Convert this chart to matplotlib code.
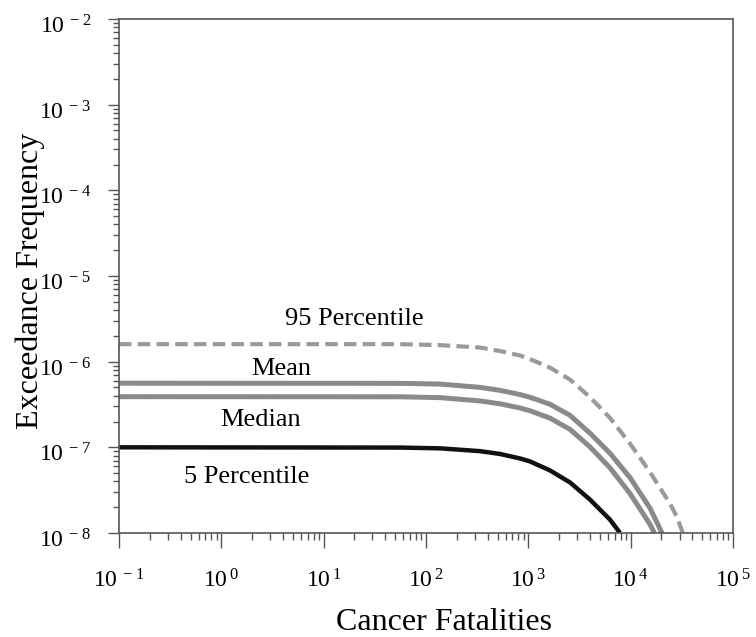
import numpy as np
import matplotlib
matplotlib.use("Agg")
import matplotlib.pyplot as plt
import matplotlib.transforms as mtransforms
from matplotlib.ticker import LogLocator, FuncFormatter, NullFormatter

plt.rcParams['font.family'] = ['Liberation Serif', 'DejaVu Serif']
plt.rcParams['mathtext.fontset'] = 'custom'
plt.rcParams['mathtext.rm'] = 'Liberation Serif'

# values (fatalities, exceedance frequency)
p95_x = [0.1, 55.7, 137, 337, 529, 829, 1038, 1629, 2554, 4008, 6284, 9863,
         15450, 24270, 28180, 32360]
p95_y = [1.60e-6, 1.60e-6, 1.56e-6, 1.46e-6, 1.33e-6, 1.18e-6, 1.07e-6, 8.51e-7,
         6.17e-7, 3.85e-7, 2.20e-7, 1.10e-7, 5.13e-8, 2.19e-8, 1.55e-8, 1.0e-8]

mean_x = [0.1, 55.7, 137, 337, 529, 662, 829, 1038, 1629, 2554, 4008, 6284,
          9863, 15450, 20230]
mean_y = [5.60e-7, 5.58e-7, 5.47e-7, 5.01e-7, 4.62e-7, 4.37e-7, 4.13e-7, 3.84e-7,
          3.18e-7, 2.36e-7, 1.46e-7, 8.51e-8, 4.42e-8, 1.95e-8, 1.0e-8]

median_x = [0.1, 55.7, 137, 337, 529, 829, 1038, 1629, 2554, 4008, 6284, 9863,
            15450, 17060]
median_y = [3.90e-7, 3.89e-7, 3.80e-7, 3.48e-7, 3.22e-7, 2.88e-7, 2.67e-7, 2.19e-7,
            1.62e-7, 1.01e-7, 5.75e-8, 2.88e-8, 1.26e-8, 1.0e-8]

p5_x = [0.1, 55.7, 137, 337, 529, 829, 1038, 1629, 2554, 4008, 6284, 7870]
p5_y = [1.0e-7, 9.93e-8, 9.73e-8, 9.02e-8, 8.36e-8, 7.41e-8, 6.84e-8, 5.37e-8,
        3.89e-8, 2.45e-8, 1.43e-8, 1.0e-8]

fig = plt.figure(figsize=(7.56, 6.37), dpi=100)
ax = fig.add_axes([0.1574, 0.1633, 0.8122, 0.8069])

ln, = ax.plot(p95_x, p95_y, color='#9a9a9a', linewidth=3)
ln.set_dashes([3, 1.5])
ax.plot(mean_x, mean_y, color='#8a8a8a', linewidth=3.6, solid_capstyle='butt')
ax.plot(median_x, median_y, color='#8a8a8a', linewidth=3.6, solid_capstyle='butt')
ax.plot(p5_x, p5_y, color='#111111', linewidth=3.2, solid_capstyle='butt')

ax.set_xscale('log')
ax.set_yscale('log')
ax.set_xlim(1e-1, 1e5)
ax.set_ylim(1e-8, 1e-2)

def fmt(v, pos):
    e = int(round(np.log10(v)))
    s = '-' if e < 0 else ''
    return r'$\mathregular{10^{\,%s%d}}$' % (s, abs(e))

for axis in (ax.xaxis, ax.yaxis):
    axis.set_major_locator(LogLocator(base=10, numticks=20))
    axis.set_minor_locator(LogLocator(base=10, subs=np.arange(2, 10), numticks=20))
    axis.set_major_formatter(FuncFormatter(fmt))
    axis.set_minor_formatter(NullFormatter())

ax.tick_params(axis='x', which='major', direction='out', length=11, width=1, pad=15,
               labelsize=17, color='#555555')
ax.tick_params(axis='x', which='minor', direction='out', length=5, width=1, color='#555555')
ax.tick_params(axis='y', which='major', direction='out', length=8, width=1, pad=12,
               labelsize=17, color='#555555')
ax.tick_params(axis='y', which='minor', direction='out', length=4, width=1, color='#555555')

# y tick labels sit a little below their ticks in the original
shift = mtransforms.ScaledTranslation(0, -4 / 72, fig.dpi_scale_trans)
for lbl in ax.get_yticklabels():
    lbl.set_transform(lbl.get_transform() + shift)

for sp in ax.spines.values():
    sp.set_color('#555555')
    sp.set_linewidth(1.2)

ax.set_xlabel('Cancer Fatalities', fontsize=23)
ax.set_ylabel('Exceedance Frequency', fontsize=23)
ax.xaxis.set_label_coords(0.529, -0.146)
ax.yaxis.set_label_coords(-0.12, 0.49)

ax.text(0.383, 0.405, '95 Percentile', transform=ax.transAxes, ha='center',
        va='baseline', fontsize=19)
ax.text(0.264, 0.307, 'Mean', transform=ax.transAxes, ha='center',
        va='baseline', fontsize=19)
ax.text(0.230, 0.208, 'Median', transform=ax.transAxes, ha='center',
        va='baseline', fontsize=19)
ax.text(0.208, 0.097, '5 Percentile', transform=ax.transAxes, ha='center',
        va='baseline', fontsize=19)

fig.savefig('out.png', dpi=100)
